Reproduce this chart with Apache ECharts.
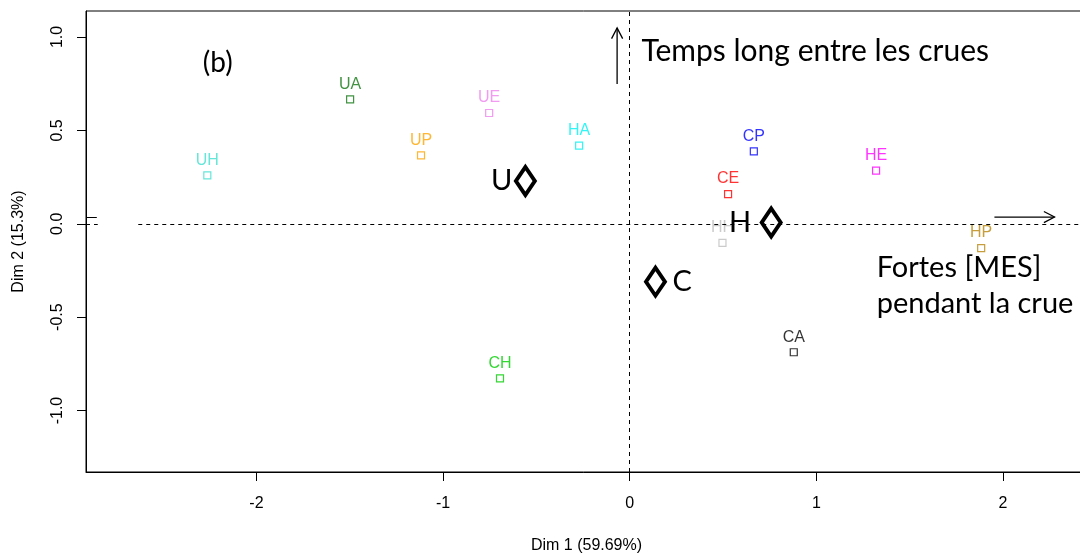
<!DOCTYPE html>
<html><head><meta charset="utf-8">
<script src="https://cdn.jsdelivr.net/npm/echarts@6/dist/echarts.min.js"></script>
<style>html,body{margin:0;padding:0;background:#fff}#c{width:1080px;height:553px}</style>
</head><body><div id="c"></div>
<script>
// ---- data ----
const pointNames = ['UH','UA','UE','UP','HA','CP','HE','CE','HH','HP','CA','CH'];
const pointX = [-2.263,-1.498,-0.753,-1.118,-0.271,0.665,1.320,0.527,0.497,1.883,0.879,-0.695];
const pointY = [0.259,0.666,0.593,0.366,0.418,0.388,0.284,0.159,-0.102,-0.130,-0.688,-0.828];
const pointColors = ['#40E0D0','#117711','#EE82EE','#FFA500','#00F2F2','#0000FF','#FF00FF','#FF0000','#BEBEBE','#B8860B','#000000','#00CD00'];
const groupNames = ['U','H','C'];
const groupX = [-0.559, 0.758, 0.138];
const groupY = [0.229, 0.007, -0.310];
const xTicks = [-2,-1,0,1,2];
const yTicks = [-1,-0.5,0,0.5,1];
const xTitle = 'Dim 1 (59.69%)';
const yTitle = 'Dim 2 (15.3%)';
const panelTag = '(b)';
const noteUp = 'Temps long entre les crues';
const noteRight = ['Fortes [MES]', 'pendant la crue'];

// ---- chart ----
const xMin = -2.913, xMax = 2.45, yMin = -1.329, yMax = 1.139;
const groupLabelPos = {U:'left', H:'left', C:'right'};
const groupLabelDist = {U:2, H:9, C:6};
const chart = echarts.init(document.getElementById('c'));
const axisFont = {fontFamily:'Liberation Sans, Arial, sans-serif', fontSize:16, color:'#000'};
const bigFont = 'Lato, "Open Sans", sans-serif';

const option = {
  animation:false,
  backgroundColor:'#fff',
  grid:{left:86, right:-7, top:11, bottom:81, containLabel:false, outerBoundsMode:'none',
        show:true, borderColor:'#000', borderWidth:1, backgroundColor:'transparent'},
  xAxis:{
    type:'value', min:xMin, max:xMax,
    name:xTitle, nameLocation:'middle', nameGap:66, nameTextStyle:axisFont,
    axisLine:{show:true, onZero:false, lineStyle:{color:'#000', width:1}},
    axisTick:{show:true, length:9, customValues:xTicks, lineStyle:{color:'#000'}},
    axisLabel:{customValues:xTicks, formatter:v=>String(v), margin:24, ...axisFont},
    splitLine:{show:false}
  },
  yAxis:{
    type:'value', min:yMin, max:yMax,
    name:yTitle, nameLocation:'middle', nameGap:59, nameRotate:90, nameTextStyle:axisFont,
    axisLine:{show:true, onZero:false, lineStyle:{color:'#000', width:1}},
    axisTick:{show:true, length:9, customValues:yTicks, lineStyle:{color:'#000'}},
    axisLabel:{customValues:yTicks, rotate:90, formatter:v=>v.toFixed(1), margin:20, ...axisFont},
    splitLine:{show:false}
  },
  series:[
    {
      type:'line', data:[], silent:true,
      markLine:{
        silent:true, symbol:['none','none'], animation:false,
        lineStyle:{color:'#000', type:[4,4], width:1},
        label:{show:false},
        data:[
          [{coord:[0, yMin]},{coord:[0, yMax]}],
          [{coord:[-2.633, 0]},{coord:[xMax, 0]}],
          [{coord:[xMin, 0]},{coord:[-2.85, 0]}],
          [{coord:[xMin, 0.037], lineStyle:{type:'solid'}},{coord:[-2.855, 0.037]}]
        ]
      }
    },
    {
      type:'scatter', symbol:'rect', symbolSize:7,
      data: pointNames.map((n,i)=>({
        name:n, value:[pointX[i], pointY[i]],
        itemStyle:{color:'rgba(255,255,255,0)', borderColor:pointColors[i], borderWidth:1.2},
        label:{color:pointColors[i]}
      })),
      label:{show:true, position:'top', distance:3, formatter:p=>p.name,
             fontFamily:'Liberation Sans, Arial, sans-serif', fontSize:16},
      emphasis:{disabled:true}
    },
    {
      type:'scatter', symbol:'diamond', symbolSize:[19,28],
      data: groupNames.map((n,i)=>({
        name:n, value:[groupX[i], groupY[i]],
        label:{position:groupLabelPos[n], distance:groupLabelDist[n]}
      })),
      itemStyle:{color:'rgba(255,255,255,0)', borderColor:'#000', borderWidth:4, opacity:1},
      label:{show:true, formatter:p=>p.name, color:'#000', fontFamily:bigFont, fontSize:29},
      emphasis:{disabled:true}
    }
  ]
};
chart.setOption(option);

function px(x,y){ return chart.convertToPixel({gridIndex:0}, [x,y]); }
function arrow(x1,y1,x2,y2){
  const a = px(x1,y1), b = px(x2,y2);
  const ang = Math.atan2(b[1]-a[1], b[0]-a[0]);
  const L = 12, w = 0.48;
  const h1 = [b[0]-L*Math.cos(ang-w), b[1]-L*Math.sin(ang-w)];
  const h2 = [b[0]-L*Math.cos(ang+w), b[1]-L*Math.sin(ang+w)];
  return [
    {type:'line', shape:{x1:a[0],y1:a[1],x2:b[0],y2:b[1]}, style:{stroke:'#000', lineWidth:1.3}},
    {type:'polyline', shape:{points:[h1,b,h2]}, style:{stroke:'#000', lineWidth:1.3, fill:null}}
  ];
}
const tUp = px(0.063, 0.925);
const tR1 = px(1.323, -0.237);
const tR2 = px(1.323, -0.43);
const tB = px(-2.287, 0.86);
chart.setOption({
  graphic:[
    ...arrow(-0.0675, 0.748, -0.0675, 1.048),
    ...arrow(1.954, 0.036, 2.276, 0.036),
    {type:'text', x:tUp[0], y:tUp[1], style:{text:noteUp, font:'30px '+bigFont, fill:'#000', textVerticalAlign:'middle'}},
    {type:'text', x:tR1[0], y:tR1[1], style:{text:noteRight[0], font:'29px '+bigFont, fill:'#000', textVerticalAlign:'middle'}},
    {type:'text', x:tR2[0], y:tR2[1], style:{text:noteRight[1], font:'29px '+bigFont, fill:'#000', textVerticalAlign:'middle'}},
    {type:'text', x:tB[0], y:tB[1], style:{text:panelTag, font:'28px '+bigFont, fill:'#000', textVerticalAlign:'middle'}}
  ]
});
</script></body></html>
